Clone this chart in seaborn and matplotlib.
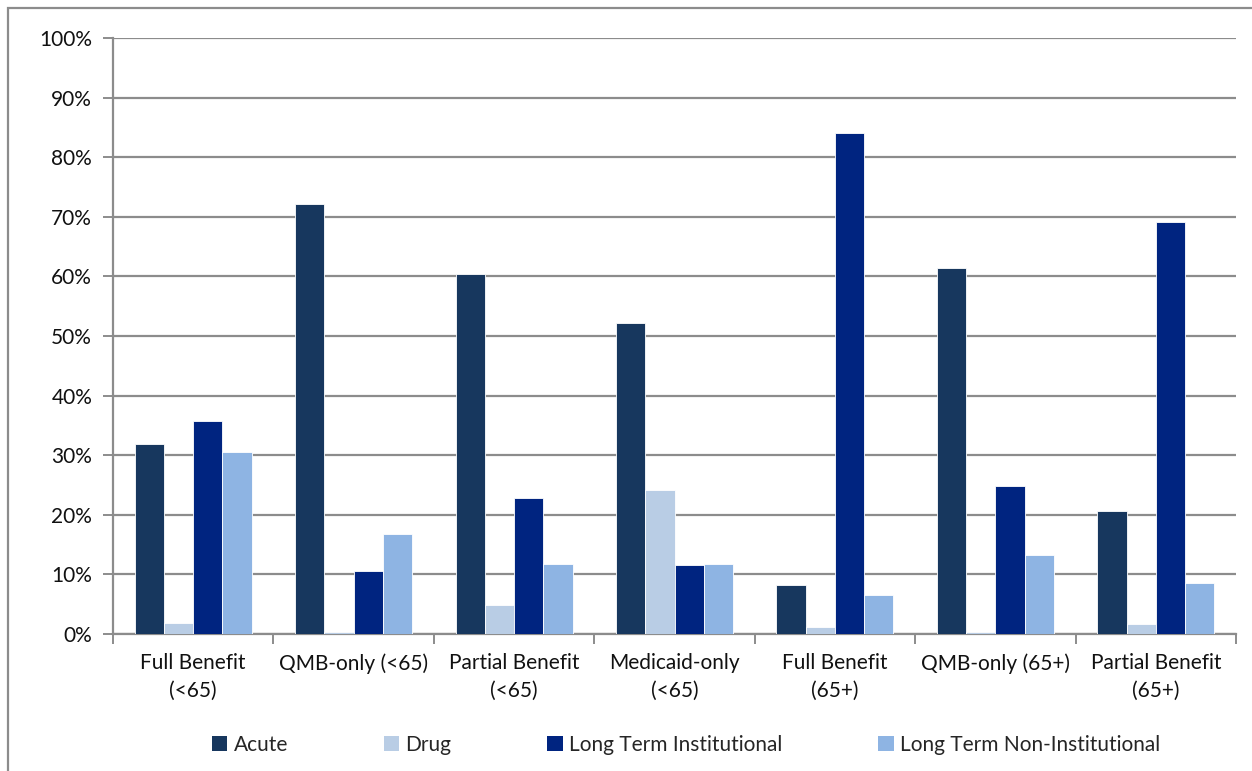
import matplotlib
matplotlib.use("Agg")
import matplotlib.pyplot as plt
from matplotlib.patches import Rectangle
from matplotlib.ticker import FixedLocator, FuncFormatter
import numpy as np
import pandas as pd
import seaborn as sns

categories = [
    "Full Benefit\n(<65)",
    "QMB-only (<65)",
    "Partial Benefit\n(<65)",
    "Medicaid-only\n(<65)",
    "Full Benefit\n(65+)",
    "QMB-only (65+)",
    "Partial Benefit\n(65+)",
]
series_names = ["Acute", "Drug", "Long Term Institutional", "Long Term Non-Institutional"]
acute = [31.9, 72.2, 60.4, 52.2, 8.2, 61.4, 20.6]
drug = [1.8, 0.4, 4.9, 24.2, 1.1, 0.3, 1.7]
lt_institutional = [35.7, 10.6, 22.8, 11.6, 84.0, 24.9, 69.1]
lt_non_institutional = [30.5, 16.7, 11.8, 11.8, 6.5, 13.3, 8.5]
colors = ["#17375E", "#B9CDE5", "#002480", "#8EB4E3"]

rows = []
for name, vals in zip(series_names, [acute, drug, lt_institutional, lt_non_institutional]):
    for cat, v in zip(categories, vals):
        rows.append({"category": cat, "series": name, "value": v})
df = pd.DataFrame(rows)

sns.set_theme(style="white")
plt.rcParams["font.family"] = ["Lato", "DejaVu Sans"]

fig = plt.figure(figsize=(12.52, 7.71), dpi=100)
ax = fig.add_axes([113 / 1252, 1 - 634 / 771, (1236 - 113) / 1252, (634 - 38) / 771])

sns.barplot(
    data=df, x="category", y="value", hue="series",
    order=categories, hue_order=series_names, palette=colors,
    width=0.73, saturation=1, errorbar=None, ax=ax,
    edgecolor="white", linewidth=0.6, zorder=3,
)

grid_col = "#8C8C8C"
fs = 15
ax.set_ylim(0, 100)
ax.set_xlim(-0.5, len(categories) - 0.5)
ax.yaxis.set_major_locator(FixedLocator(np.arange(0, 101, 10)))
ax.yaxis.set_major_formatter(FuncFormatter(lambda v, p: f"{int(v)}%"))
ax.grid(axis="y", color=grid_col, linewidth=1.6, zorder=0)
ax.set_axisbelow(True)

for s in ["top", "right"]:
    ax.spines[s].set_visible(False)
for s in ["left", "bottom"]:
    ax.spines[s].set_color(grid_col)
    ax.spines[s].set_linewidth(1.6)

ax.tick_params(axis="y", which="major", left=True, length=7, width=1.4, color=grid_col,
               labelsize=fs, labelcolor="#111111", pad=8)
ax.xaxis.set_minor_locator(FixedLocator(np.arange(-0.5, len(categories), 1.0)))
ax.tick_params(axis="x", which="minor", bottom=True, length=7, width=1.4, color=grid_col)
ax.tick_params(axis="x", which="major", bottom=False, length=0, labelsize=fs,
               labelcolor="#111111", pad=14)
for lbl in ax.get_xticklabels():
    lbl.set_linespacing(1.45)
ax.set_xlabel("")
ax.set_ylabel("")

ax.get_legend().remove()
handles = [Rectangle((0, 0), 1, 1, facecolor=c, edgecolor="none") for c in colors]
fig.legend(handles, series_names, loc="center", bbox_to_anchor=(0.548, 1 - 745 / 771),
           ncol=4, frameon=False, fontsize=fs, handlelength=0.75, handleheight=0.75,
           handletextpad=0.3, columnspacing=4.6)

fig.patches.append(Rectangle((8 / 1252, -0.05), 1.1, 1.05 - 8 / 771, transform=fig.transFigure,
                             fill=False, edgecolor=grid_col, linewidth=1.6))

fig.savefig("out.png", dpi=100)
